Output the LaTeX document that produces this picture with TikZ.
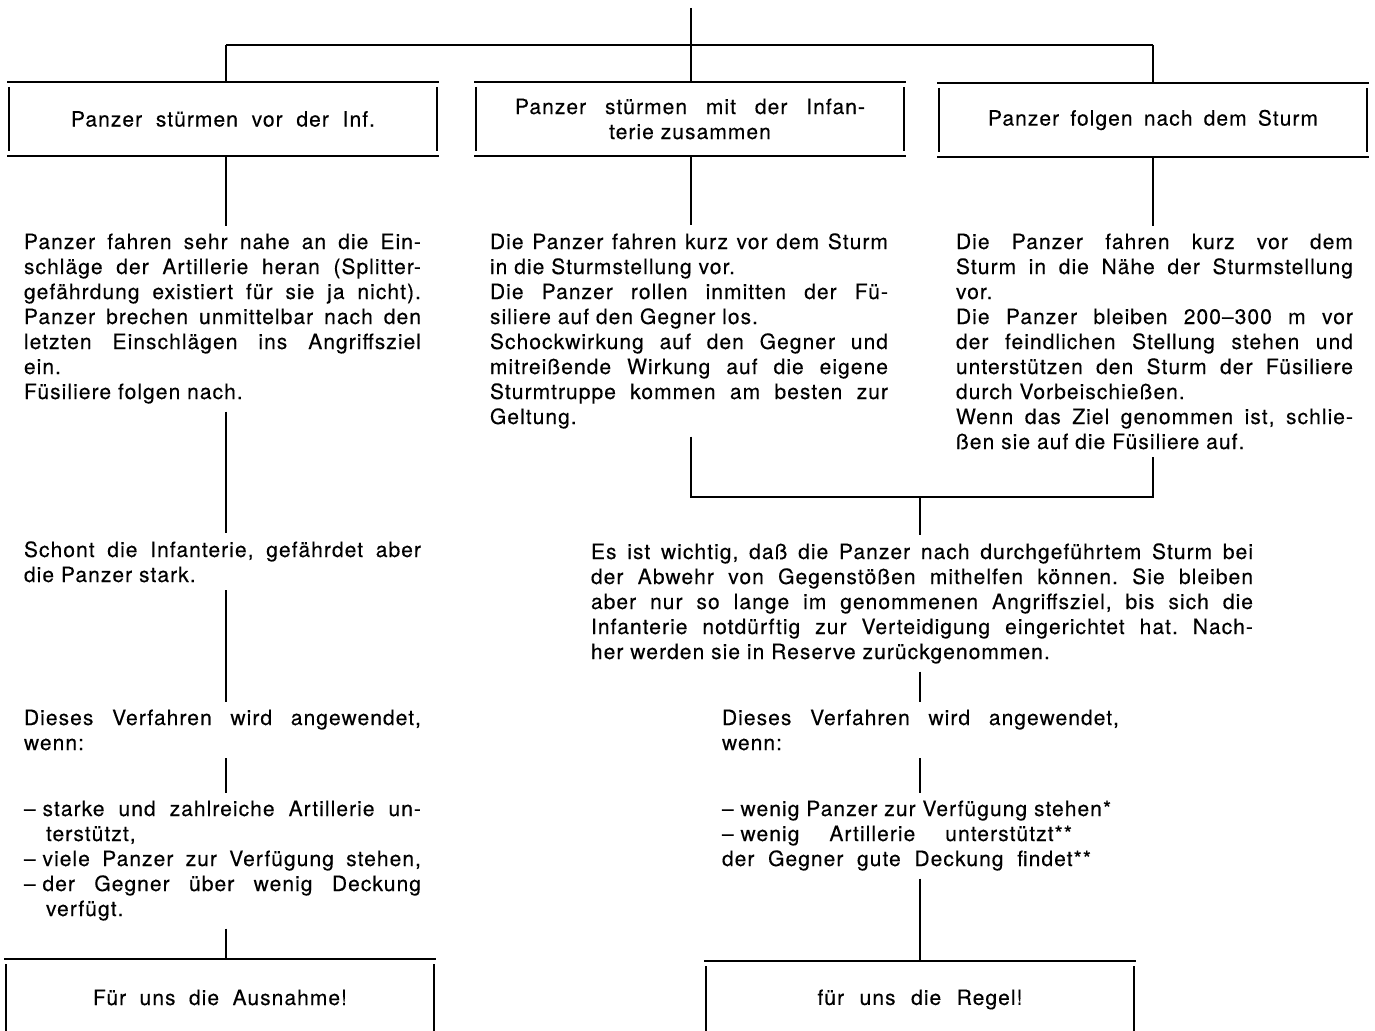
\documentclass[tikz,border=0pt]{standalone}
\usepackage{fontspec}
\setmainfont{TeX Gyre Heros}[LetterSpace=5,FakeBold=0.3]
\frenchspacing
\newcommand{\textcol}[2]{\parbox[t]{#1}{\tolerance=10000 \hyphenpenalty=10000 \exhyphenpenalty=10000 #2}}
\begin{document}
\begin{tikzpicture}[x=1pt,y=-1pt,line width=2pt,
    every node/.style={font=\fontsize{21pt}{25pt}\selectfont},
    panel/.style={minimum width=430pt,minimum height=72pt,inner sep=0pt,align=center},
    txt/.style={anchor=base west,inner xsep=0pt,inner ysep=7pt}]
  \useasboundingbox (0,0) rectangle (1375,1030);

  % columns and joints
  \coordinate (cl) at (226,0);
  \coordinate (cm) at (691,0);
  \coordinate (cr) at (1153,0);
  \coordinate (top) at (691,8);
  \coordinate (hub) at (691,45);
  \coordinate (join) at (920,497);

  % the three ways
  \node[panel] (b1) at (223,119) {\makebox[304pt][s]{Panzer stürmen vor der Inf.}};
  \node[panel] (b2) at (690,119) {\makebox[350pt][s]{Panzer stürmen mit der Infan-}\\terie zusammen};
  \node[panel] (b3) at (1153,120) {\makebox[330pt][s]{Panzer folgen nach dem Sturm}};

  \node[txt] (t1) at (23,249) {\textcol{397pt}{Panzer fahren sehr nahe an die Ein-\linebreak
    schläge der Artillerie heran (Splitter-\linebreak
    gefährdung existiert für sie ja nicht).\linebreak
    Panzer brechen unmittelbar nach den\linebreak
    letzten Einschlägen ins Angriffsziel\linebreak
    ein.\\
    Füsiliere folgen nach.}};
  \node[txt] (t2) at (489,249) {\textcol{398pt}{Die Panzer fahren kurz vor dem Sturm\linebreak
    in die Sturmstellung vor.\\
    Die Panzer rollen inmitten der Fü-\linebreak
    siliere auf den Gegner los.\\
    Schockwirkung auf den Gegner und\linebreak
    mitreißende Wirkung auf die eigene\linebreak
    Sturmtruppe kommen am besten zur\linebreak
    Geltung.}};
  \node[txt] (t3) at (955,249) {\textcol{397pt}{Die Panzer fahren kurz vor dem\linebreak
    Sturm in die Nähe der Sturmstellung\linebreak
    vor.\\
    Die Panzer bleiben 200–300 m vor\linebreak
    der feindlichen Stellung stehen und\linebreak
    unterstützen den Sturm der Füsiliere\linebreak
    durch Vorbeischießen.\\
    Wenn das Ziel genommen ist, schlie-\linebreak
    ßen sie auf die Füsiliere auf.}};

  % left branch
  \node[txt] (s1) at (23,557) {\textcol{397pt}{Schont die Infanterie, gefährdet aber\linebreak
    die Panzer stark.}};
  \node[txt] (d1) at (23,725) {\textcol{397pt}{Dieses Verfahren wird angewendet,\linebreak
    wenn:}};
  \node[txt] (l1) at (23,816) {\textcol{397pt}{\hangindent=22pt \hangafter=1
    \mbox{– starke} und zahlreiche Artillerie un-\linebreak terstützt,\par
    {\parfillskip=0pt \mbox{– viele} Panzer zur Verfügung stehen,\par}
    \hangindent=22pt \hangafter=1
    \mbox{– der} Gegner über wenig Deckung\linebreak verfügt.}};
  \node[panel,minimum height=75pt] (b4) at (220,997.5) {\makebox[254pt][s]{Für uns die Ausnahme!}};

  % right branch
  \node[txt] (m) at (590,559) {\textcol{662pt}{Es ist wichtig, daß die Panzer nach durchgeführtem Sturm bei\linebreak
    der Abwehr von Gegenstößen mithelfen können. Sie bleiben\linebreak
    aber nur so lange im genommenen Angriffsziel, bis sich die\linebreak
    Infanterie notdürftig zur Verteidigung eingerichtet hat. Nach-\linebreak
    her werden sie in Reserve zurückgenommen.}};
  \node[txt] (d2) at (721,725) {\textcol{397pt}{Dieses Verfahren wird angewendet,\linebreak
    wenn:}};
  \node[txt] (l2) at (721,816) {\textcol{397pt}{– wenig Panzer zur Verfügung stehen*\\
    \makebox[350pt][s]{\mbox{– wenig} Artillerie unterstützt**}\\
    \makebox[369pt][s]{der Gegner gute Deckung findet**}}};
  \node[panel,minimum height=75pt] (b5) at (920,999.5) {\makebox[205pt][s]{für uns die Regel!}};

  % open panels
  \foreach \b in {b1,b2,b3,b4,b5} {
    \draw (\b.north west) -- (\b.north east);
    \draw (\b.south west) -- (\b.south east);
    \draw ([shift={(2,5)}]\b.north west) -- ([shift={(2,-5)}]\b.south west);
    \draw ([shift={(-2,5)}]\b.north east) -- ([shift={(-2,-5)}]\b.south east);
  }

  % connectors
  \draw (top) -- (hub);
  \draw (hub -| cl) -- (hub -| cr);
  \draw (hub -| cl) -- (b1.north -| cl);
  \draw (hub) -- (b2.north -| cm);
  \draw (hub -| cr) -- (b3.north -| cr);
  \draw (b1.south -| cl) -- (t1.north -| cl);
  \draw (b2.south -| cm) -- (t2.north -| cm);
  \draw (b3.south -| cr) -- (t3.north -| cr);
  \draw (t1.south -| cl) -- (s1.north -| cl);
  \draw (s1.south -| cl) -- (d1.north -| cl);
  \draw (d1.south -| cl) -- (l1.north -| cl);
  \draw (l1.south -| cl) -- (b4.north -| cl);
  \draw (t2.south -| cm) -- (join -| cm) -- (join -| cr) -- (t3.south -| cr);
  \draw (join) -- (m.north -| join);
  \draw (m.south -| join) -- (d2.north -| join);
  \draw (d2.south -| join) -- (l2.north -| join);
  \draw (l2.south -| join) -- (b5.north -| join);
\end{tikzpicture}
\end{document}
